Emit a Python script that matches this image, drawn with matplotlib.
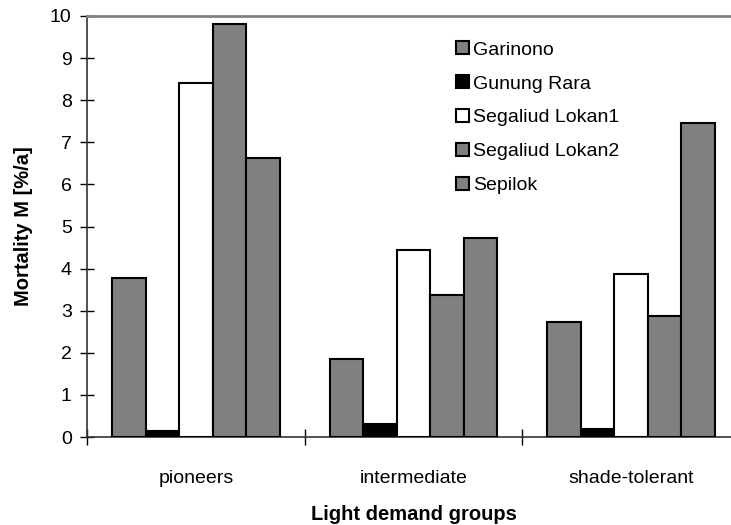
import matplotlib.pyplot as plt
import numpy as np

plt.rcParams['font.family'] = ['Liberation Sans', 'DejaVu Sans']

groups = ['pioneers', 'intermediate', 'shade-tolerant']
sites = ['Garinono', 'Gunung Rara', 'Segaliud Lokan1', 'Segaliud Lokan2', 'Sepilok']
garinono = [3.77, 1.85, 2.72]
gunung_rara = [0.15, 0.30, 0.20]
segaliud1 = [8.42, 4.43, 3.88]
segaliud2 = [9.80, 3.38, 2.88]
sepilok = [6.62, 4.72, 7.47]

series = [garinono, gunung_rara, segaliud1, segaliud2, sepilok]
colors = ['#808080', '#000000', '#ffffff', '#808080', '#808080']

fig = plt.figure(figsize=(7.31, 5.25), dpi=100)
ax = fig.add_axes([87 / 731, 1 - 437 / 525, 653 / 731, 421 / 525])

n = len(sites)
bw = 0.77 / n
centers = np.arange(len(groups)) + 0.5
for i, (vals, c, name) in enumerate(zip(series, colors, sites)):
    x = centers - 0.385 + bw * (i + 0.5)
    ax.bar(x, vals, width=bw, color=c, edgecolor='black', linewidth=1.5,
           label=name, zorder=3)

ax.set_xlim(0, 3)
ax.set_ylim(0, 10)
ax.set_yticks(range(0, 11))
ax.set_xticks([0, 1, 2, 3])
ax.set_xticklabels([])
ax.set_xticks(centers, minor=True)
ax.set_xticklabels(groups, minor=True)
ax.tick_params(axis='x', which='minor', length=0, pad=24, labelsize=14)
ax.tick_params(axis='x', which='major', direction='inout', length=12, width=1)
ax.tick_params(axis='y', direction='inout', length=10, width=1, labelsize=14, pad=6)

for s in ['left', 'bottom']:
    ax.spines[s].set_color('#333333')
    ax.spines[s].set_linewidth(1.2)
ax.spines['top'].set_color('#808080')
ax.spines['top'].set_linewidth(2)
ax.spines['right'].set_visible(False)

ax.set_ylabel('Mortality M [%/a]', fontsize=14.5, fontweight='bold', labelpad=12)
ax.set_xlabel('Light demand groups', fontsize=14.5, fontweight='bold', labelpad=13)

ax.legend(loc='upper left', bbox_to_anchor=(0.553, 0.958), frameon=False,
          fontsize=14, handlelength=0.65, handleheight=0.65, handletextpad=0.25,
          labelspacing=0.85, borderaxespad=0)

fig.savefig('out.png', dpi=100)
